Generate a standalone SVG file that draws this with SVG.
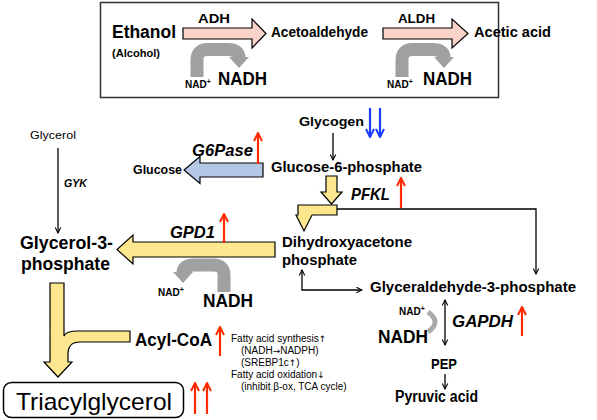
<svg xmlns="http://www.w3.org/2000/svg" width="597" height="420" viewBox="0 0 597 420">
<style>
text{font-family:"Liberation Sans",Arial,sans-serif;fill:#000}
.b{font-weight:bold}
.bi{font-weight:bold;font-style:italic}
.sm{font-size:10px}
.ar{font-family:"DejaVu Sans",sans-serif;font-size:9px}
.ln{fill:none;stroke:#000;stroke-width:1.3}
.red{fill:none;stroke:#ff2a00;stroke-width:2.2}
.blue{fill:none;stroke:#1a3cff;stroke-width:2.2}
.gray{fill:none;stroke:#a0a0a0;stroke-width:13}
.grayh{fill:#a0a0a0}
.yel{fill:#fce78e;stroke:#000;stroke-width:1.2}
.pink{fill:#f9d2ca;stroke:#000;stroke-width:1.2}
.bluef{fill:#b4c7e7;stroke:#000;stroke-width:1.2}
</style>
<defs>
<marker id="rh" viewBox="0 0 10 10" refX="9" refY="5" markerWidth="10" markerHeight="10" markerUnits="userSpaceOnUse" orient="auto"><path d="M1,1 L9,5 L1,9" fill="none" stroke="#ff2a00" stroke-width="2"/></marker>
<marker id="bh" viewBox="0 0 10 10" refX="9" refY="5" markerWidth="10" markerHeight="10" markerUnits="userSpaceOnUse" orient="auto"><path d="M1,1 L9,5 L1,9" fill="none" stroke="#1a3cff" stroke-width="2"/></marker>
<marker id="kh" viewBox="0 0 10 10" refX="9" refY="5" markerWidth="7" markerHeight="7" markerUnits="userSpaceOnUse" orient="auto-start-reverse"><path d="M1,1 L9,5 L1,9" fill="none" stroke="#000" stroke-width="1.5"/></marker>
</defs>
<rect x="0" y="0" width="597" height="420" fill="#fff"/>

<g id="ethanol-box">
<rect x="100.5" y="2.5" width="398" height="95" fill="#fff" stroke="#333" stroke-width="1.5"/>
</g>

<g id="connectors">
<polygon class="pink" points="183,28 252,28 252,19 266,33.5 252,48 252,39 183,39"/>
<polygon class="pink" points="383,28 452,28 452,19 468,33.5 452,48 452,39 383,39"/>
<path class="gray" d="M197,77 V60 Q197,49.5 208,49.5 H228 Q239,49.5 239,58"/>
<polygon class="grayh" points="229,57 249,57 239,68"/>
<path class="gray" d="M402,77 V60 Q402,49.5 413,49.5 H433 Q444,49.5 444,58"/>
<polygon class="grayh" points="434,57 454,57 444,68"/>

<polygon class="bluef" points="263,163 200,163 200,156.5 184,170 200,183.5 200,177 263,177"/>
<polygon class="yel" points="326,176 337,176 337,192 342,192 331.5,204 321,192 326,192"/>
<polygon class="yel" points="298,205 337,205 337,215 312,215 304,231 296,215 298,215"/>
<path class="ln" d="M337,209 H536 V274" marker-end="url(#kh)"/>
<polygon class="yel" points="275,242 133,242 133,235 117,249.5 133,264 133,257 275,257"/>
<path class="gray" d="M224,292 V275 Q224,265 213,265 H194 Q183,265 183,273"/>
<polygon class="grayh" points="173,272 193,272 183,283"/>
<path class="yel" d="M50,283 H64 V336 Q66,331 78,331 H130 V342 H80 Q68,342 68,354 V362 H72 L58,377 L44,362 H50 Z"/>

<path class="ln" d="M58,148 V233" marker-end="url(#kh)"/>
<path class="ln" d="M333,133 V160" marker-end="url(#kh)"/>
<path class="ln" d="M302,270 V290 H362" marker-start="url(#kh)" marker-end="url(#kh)"/>
<path class="ln" d="M445,300 V345" marker-start="url(#kh)" marker-end="url(#kh)"/>
<path class="ln" d="M445,374 V389" marker-end="url(#kh)"/>
<path d="M428,312 Q442,322 428,332" fill="none" stroke="#aaa" stroke-width="5"/>

<path class="red" d="M258,164 V133" marker-end="url(#rh)"/>
<path class="red" d="M401,208 V178" marker-end="url(#rh)"/>
<path class="red" d="M224,243 V214" marker-end="url(#rh)"/>
<path class="red" d="M220,356 V327" marker-end="url(#rh)"/>
<path class="red" d="M522,336 V307" marker-end="url(#rh)"/>
<path class="red" d="M195,414 V383" marker-end="url(#rh)"/>
<path class="red" d="M207,414 V383" marker-end="url(#rh)"/>
<path class="blue" d="M370,108 V137" marker-end="url(#bh)"/>
<path class="blue" d="M380,108 V137" marker-end="url(#bh)"/>
</g>

<g id="ethanol"><text class="b" x="112" y="38" font-size="18" textLength="64" lengthAdjust="spacingAndGlyphs">Ethanol</text>
<text class="b" x="112" y="57" font-size="10" textLength="48" lengthAdjust="spacingAndGlyphs">(Alcohol)</text></g>
<g id="adh"><text class="b" x="198" y="23" font-size="13" textLength="32" lengthAdjust="spacingAndGlyphs">ADH</text></g>
<g id="acetoaldehyde"><text class="b" x="271" y="37" font-size="14" textLength="97" lengthAdjust="spacingAndGlyphs">Acetoaldehyde</text></g>
<g id="aldh"><text class="b" x="398" y="23" font-size="13" textLength="37" lengthAdjust="spacingAndGlyphs">ALDH</text></g>
<g id="acetic-acid"><text class="b" x="474" y="37" font-size="14" textLength="77" lengthAdjust="spacingAndGlyphs">Acetic acid</text></g>
<g id="nadh-1"><text class="b" x="185" y="88" font-size="10">NAD<tspan font-size="7" dy="-4">+</tspan></text>
<text class="b" x="218" y="85" font-size="18" textLength="49" lengthAdjust="spacingAndGlyphs">NADH</text></g>
<g id="nadh-2"><text class="b" x="387" y="88" font-size="10">NAD<tspan font-size="7" dy="-4">+</tspan></text>
<text class="b" x="423" y="85" font-size="18" textLength="49" lengthAdjust="spacingAndGlyphs">NADH</text></g>

<g id="glycerol"><text x="30" y="139" font-size="11" textLength="46" lengthAdjust="spacingAndGlyphs">Glycerol</text></g>
<g id="gyk"><text class="bi" x="64" y="187" font-size="11" textLength="23" lengthAdjust="spacingAndGlyphs">GYK</text></g>
<g id="glycerol-3-phosphate"><text class="b" x="20" y="249" font-size="18" textLength="93" lengthAdjust="spacingAndGlyphs">Glycerol-3-</text>
<text class="b" x="21" y="270" font-size="18" textLength="89" lengthAdjust="spacingAndGlyphs">phosphate</text></g>
<g id="g6pase"><text class="bi" x="192" y="156" font-size="17" textLength="61" lengthAdjust="spacingAndGlyphs">G6Pase</text></g>
<g id="glucose"><text class="b" x="133" y="174" font-size="13" textLength="49" lengthAdjust="spacingAndGlyphs">Glucose</text></g>
<g id="glycogen"><text class="b" x="299" y="126" font-size="13" textLength="65" lengthAdjust="spacingAndGlyphs">Glycogen</text></g>
<g id="glucose-6-phosphate"><text class="b" x="271" y="172" font-size="14" textLength="151" lengthAdjust="spacingAndGlyphs">Glucose-6-phosphate</text></g>
<g id="pfkl"><text class="bi" x="351" y="200" font-size="17" textLength="39" lengthAdjust="spacingAndGlyphs">PFKL</text></g>
<g id="dhap"><text class="b" x="282" y="247" font-size="14" textLength="130" lengthAdjust="spacingAndGlyphs">Dihydroxyacetone</text>
<text class="b" x="282" y="265" font-size="14" textLength="75" lengthAdjust="spacingAndGlyphs">phosphate</text></g>
<g id="gpd1"><text class="bi" x="170" y="238" font-size="17" textLength="45" lengthAdjust="spacingAndGlyphs">GPD1</text></g>
<g id="nadh-3"><text class="b" x="158" y="296" font-size="10">NAD<tspan font-size="7" dy="-4">+</tspan></text>
<text class="b" x="203" y="307" font-size="18" textLength="50" lengthAdjust="spacingAndGlyphs">NADH</text></g>
<g id="g3p"><text class="b" x="370" y="292" font-size="14" textLength="206" lengthAdjust="spacingAndGlyphs">Glyceraldehyde-3-phosphate</text></g>
<g id="acyl-coa"><text class="b" x="135" y="346" font-size="18" textLength="77" lengthAdjust="spacingAndGlyphs">Acyl-CoA</text></g>
<g id="fatty-notes">
<text class="sm" x="231" y="342">Fatty acid synthesis<tspan class="ar">↑</tspan></text>
<text class="sm" x="241" y="354">(NADH<tspan class="ar">→</tspan>NADPH)</text>
<text class="sm" x="241" y="366">(SREBP1c<tspan class="ar">↑</tspan>)</text>
<text class="sm" x="231" y="378">Fatty acid oxidation<tspan class="ar">↓</tspan></text>
<text class="sm" x="241" y="390">(inhibit β-ox, TCA cycle)</text>
</g>
<g id="triacylglycerol"><rect x="3.5" y="382.5" width="180" height="35" rx="8" fill="#fff" stroke="#000" stroke-width="1.5"/>
<text x="16" y="410" font-size="24" textLength="156" lengthAdjust="spacingAndGlyphs">Triacylglycerol</text></g>
<g id="nadh-4"><text class="b" x="399" y="315" font-size="10">NAD<tspan font-size="7" dy="-4">+</tspan></text>
<text class="b" x="378" y="343" font-size="18" textLength="50" lengthAdjust="spacingAndGlyphs">NADH</text></g>
<g id="gapdh"><text class="bi" x="452" y="327" font-size="17" textLength="61" lengthAdjust="spacingAndGlyphs">GAPDH</text></g>
<g id="pep"><text class="b" x="431" y="369" font-size="14" textLength="26" lengthAdjust="spacingAndGlyphs">PEP</text></g>
<g id="pyruvic-acid"><text class="b" x="395" y="402" font-size="16" textLength="83" lengthAdjust="spacingAndGlyphs">Pyruvic acid</text></g>
</svg>
